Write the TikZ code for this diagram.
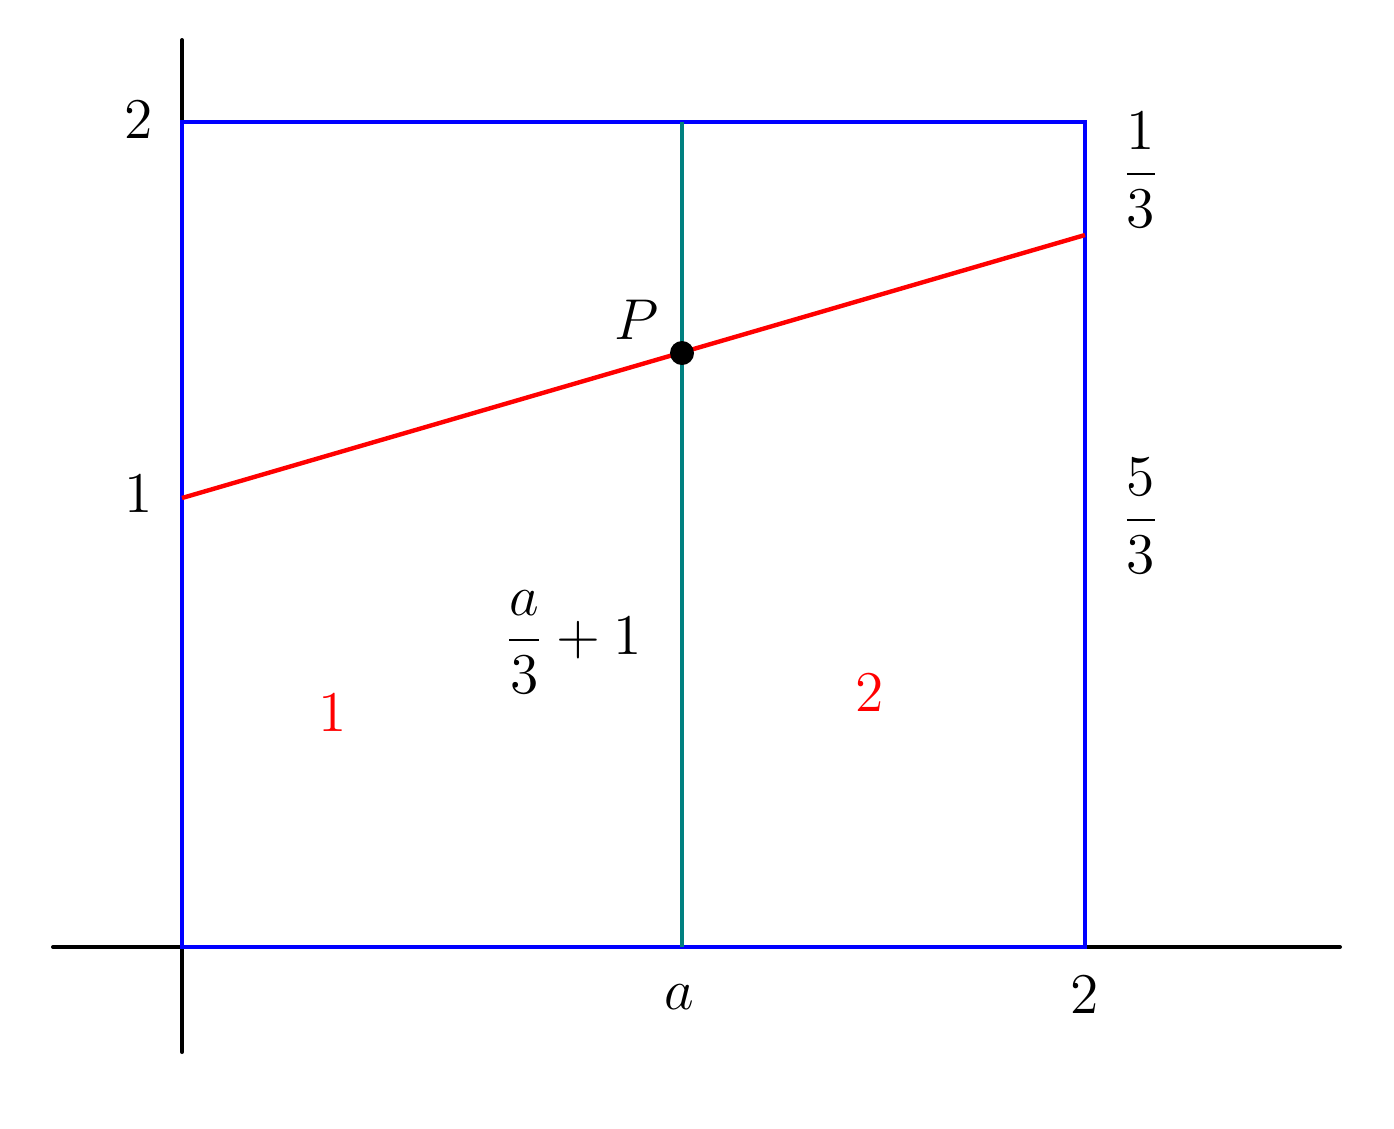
\documentclass[tikz,border=0pt]{standalone}
\usepackage{amsmath}
\begin{document}
\begin{tikzpicture}[x=0.25pt,y=-0.25pt,
  axisline/.style={black,line width=1pt,line cap=round},
  boxline/.style={blue,line width=1.2pt},
  midline/.style={teal,line width=0.8pt},
  redline/.style={red,line width=1.1pt},
  lbl/.style={font=\Large,inner sep=0pt},
  rlbl/.style={font=\Large,text=red,inner sep=0pt}]
\useasboundingbox[fill=white] (0,0) rectangle (1394,1128);
% axes
\coordinate (xl) at (53,947);
\coordinate (xr) at (1340,947);
\coordinate (yb) at (182,1052);
\coordinate (yt) at (182,40);
\draw[axisline] (xl) -- (xr);
\draw[axisline] (yb) -- (yt);
% square
\coordinate (O) at (182,947);
\coordinate (A) at (1085,947);
\coordinate (B) at (1085,122);
\coordinate (C) at (182,122);
\draw[boxline] (O) -- (A) -- (B) -- (C) -- cycle;
% vertical at a
\coordinate (ab) at (682,947);
\coordinate (at) at (682,122);
\draw[midline] (ab) -- (at);
% red line
\coordinate (rl) at (182,498);
\coordinate (rr) at (1085,235);
\draw[redline] (rl) -- (rr);
% point P
\coordinate (P) at (682,353);
\fill[black] (P) circle[radius=12];
\node[lbl] (Plabel) at (637,320) {$P$};
% labels
\node[lbl] (y2) at (139,120) {$2$};
\node[lbl] (y1) at (139,494) {$1$};
\node[lbl] (f13) at (1141,170) {$\dfrac{1}{3}$};
\node[lbl] (f53) at (1141,516) {$\dfrac{5}{3}$};
\node[lbl] (expr) at (573,642) {$\dfrac{a}{3}+1$};
\node[rlbl] (r1) at (333,713) {$1$};
\node[rlbl] (r2) at (870,693) {$2$};
\node[lbl] (xa) at (679,997) {$a$};
\node[lbl] (x2) at (1085,995) {$2$};
\end{tikzpicture}
\end{document}
